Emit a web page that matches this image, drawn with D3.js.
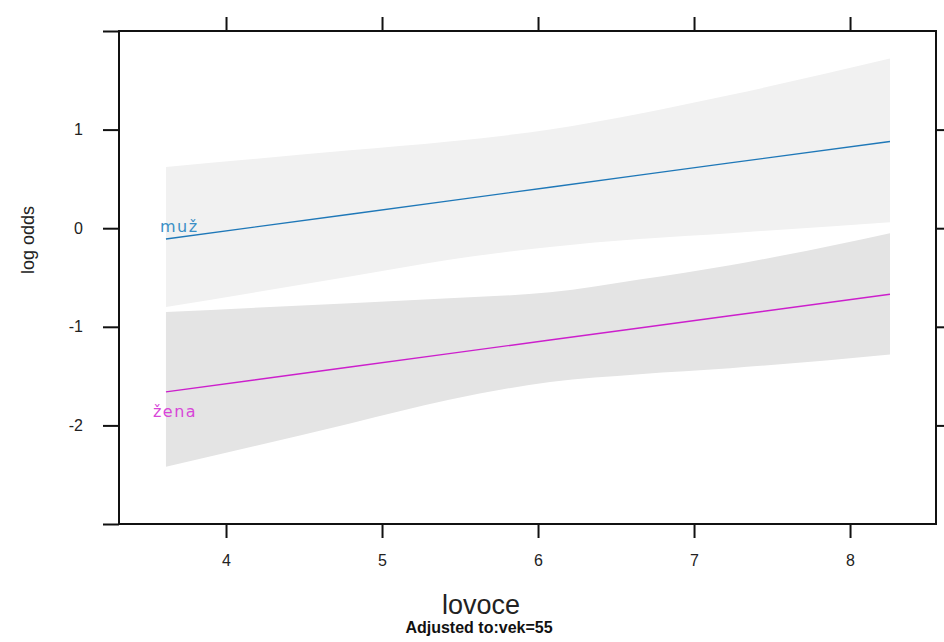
<!DOCTYPE html>
<html>
<head>
<meta charset="utf-8">
<script src="https://cdn.jsdelivr.net/npm/d3@7"></script>
<style>
	body { margin: 0; background: #fff; }
	text { font-family: "Liberation Sans", Arial, sans-serif; }
</style>
</head>
<body>
<script>
"use strict";

// effect of lovoce on log odds, by sex
var xs = [3.615, 4.795, 5.43, 6.077, 6.65, 7.231, 8.256];

var muzFit   = [-0.11, 0.142, 0.277, 0.416, 0.538, 0.662, 0.88];
var muzLower = [-0.80, -0.49, -0.32, -0.19, -0.11, -0.05, 0.06];
var muzUpper = [0.62, 0.79, 0.88, 1.00, 1.16, 1.35, 1.72];

var zenaFit   = [-1.66, -1.408, -1.272, -1.134, -1.012, -0.888, -0.67];
var zenaLower = [-2.42, -1.98, -1.74, -1.56, -1.48, -1.42, -1.28];
var zenaUpper = [-0.85, -0.76, -0.71, -0.65, -0.52, -0.375, -0.05];

var xTicks = [4, 5, 6, 7, 8];
var yTicks = [-2, -1, 0, 1];

var groups = [
	{name: "muž", fit: muzFit, lower: muzLower, upper: muzUpper,
		line: "#1f78b8", label: "#3a8fc6", band: "#f1f1f1"},
	{name: "žena", fit: zenaFit, lower: zenaLower, upper: zenaUpper,
		line: "#cc1fcc", label: "#d846d8", band: "#e4e4e4"}
];

var width = 944, height = 642;
var box = {left: 119, right: 936, top: 31, bottom: 524};

var x = d3.scaleLinear().domain([3.314, 8.551]).range([box.left, box.right]);
var y = d3.scaleLinear().domain([-3, 2]).range([box.bottom, box.top]);

var svg = d3.select("body").append("svg")
	.attr("width", width)
	.attr("height", height);

// confidence bands
var area = d3.area()
	.x(function(d) { return x(d.x); })
	.y0(function(d) { return y(d.lo); })
	.y1(function(d) { return y(d.hi); })
	.curve(d3.curveMonotoneX);

var line = d3.line()
	.x(function(d) { return x(d.x); })
	.y(function(d) { return y(d.fit); });

groups.forEach(function(g) {
	g.pts = xs.map(function(v, i) {
		return {x: v, fit: g.fit[i], lo: g.lower[i], hi: g.upper[i]};
	});
});

svg.selectAll("path.band").data(groups).enter().append("path")
	.attr("class", "band")
	.attr("d", function(g) { return area(g.pts); })
	.attr("fill", function(g) { return g.band; });

svg.selectAll("path.fit").data(groups).enter().append("path")
	.attr("class", "fit")
	.attr("d", function(g) { return line(g.pts); })
	.attr("fill", "none")
	.attr("stroke", function(g) { return g.line; })
	.attr("stroke-width", 1.4);

// group labels next to the start of each line
svg.append("text")
	.attr("x", x(xs[0]) - 6)
	.attr("y", y(muzFit[0]) - 7)
	.attr("fill", groups[0].label)
	.attr("font-size", 16)
	.attr("letter-spacing", 1.5)
	.style("font-family", "\"DejaVu Sans\", Verdana, sans-serif")
	.text(groups[0].name);

svg.append("text")
	.attr("x", x(xs[0]) - 13)
	.attr("y", y(zenaFit[0]) + 25)
	.attr("fill", groups[1].label)
	.attr("font-size", 16)
	.attr("letter-spacing", 1.5)
	.style("font-family", "\"DejaVu Sans\", Verdana, sans-serif")
	.text(groups[1].name);

// axes: lattice style, ticks outside on all four sides
var axisBottom = d3.axisBottom(x).tickValues(xTicks).tickSize(14).tickPadding(17)
	.tickFormat(d3.format("d"));
var axisTop = d3.axisTop(x).tickValues(xTicks).tickSize(14).tickFormat("");
var axisLeft = d3.axisLeft(y).tickValues([-3, -2, -1, 0, 1, 2]).tickSize(16).tickPadding(20)
	.tickFormat(function(d) { return yTicks.indexOf(d) >= 0 ? d : ""; });
var axisRight = d3.axisRight(y).tickValues(yTicks).tickSize(12).tickFormat("");

function style(sel) {
	sel.select(".domain").remove();
	sel.selectAll("line").attr("stroke", "#111").attr("stroke-width", 2);
	sel.selectAll("text").attr("font-size", 16).attr("fill", "#222")
		.style("font-family", "\"Liberation Sans\", Arial, sans-serif");
}

svg.append("g").attr("transform", "translate(0," + box.bottom + ")").call(axisBottom).call(style);
svg.append("g").attr("transform", "translate(0," + box.top + ")").call(axisTop).call(style);
svg.append("g").attr("transform", "translate(" + box.left + ",0)").call(axisLeft).call(style);
svg.append("g").attr("transform", "translate(" + box.right + ",0)").call(axisRight).call(style);

svg.append("rect")
	.attr("x", box.left).attr("y", box.top)
	.attr("width", box.right - box.left)
	.attr("height", box.bottom - box.top)
	.attr("fill", "none")
	.attr("stroke", "#111")
	.attr("stroke-width", 2);

// axis titles
svg.append("text")
	.attr("transform", "translate(34,240) rotate(-90)")
	.attr("text-anchor", "middle")
	.attr("font-size", 18)
	.attr("fill", "#222")
	.text("log odds");

svg.append("text")
	.attr("x", 481).attr("y", 614)
	.attr("text-anchor", "middle")
	.attr("font-size", 27)
	.attr("fill", "#222")
	.text("lovoce");

svg.append("text")
	.attr("x", 479).attr("y", 633)
	.attr("text-anchor", "middle")
	.attr("font-size", 16)
	.attr("font-weight", "bold")
	.attr("fill", "#111")
	.text("Adjusted to:vek=55");
</script>
</body>
</html>
